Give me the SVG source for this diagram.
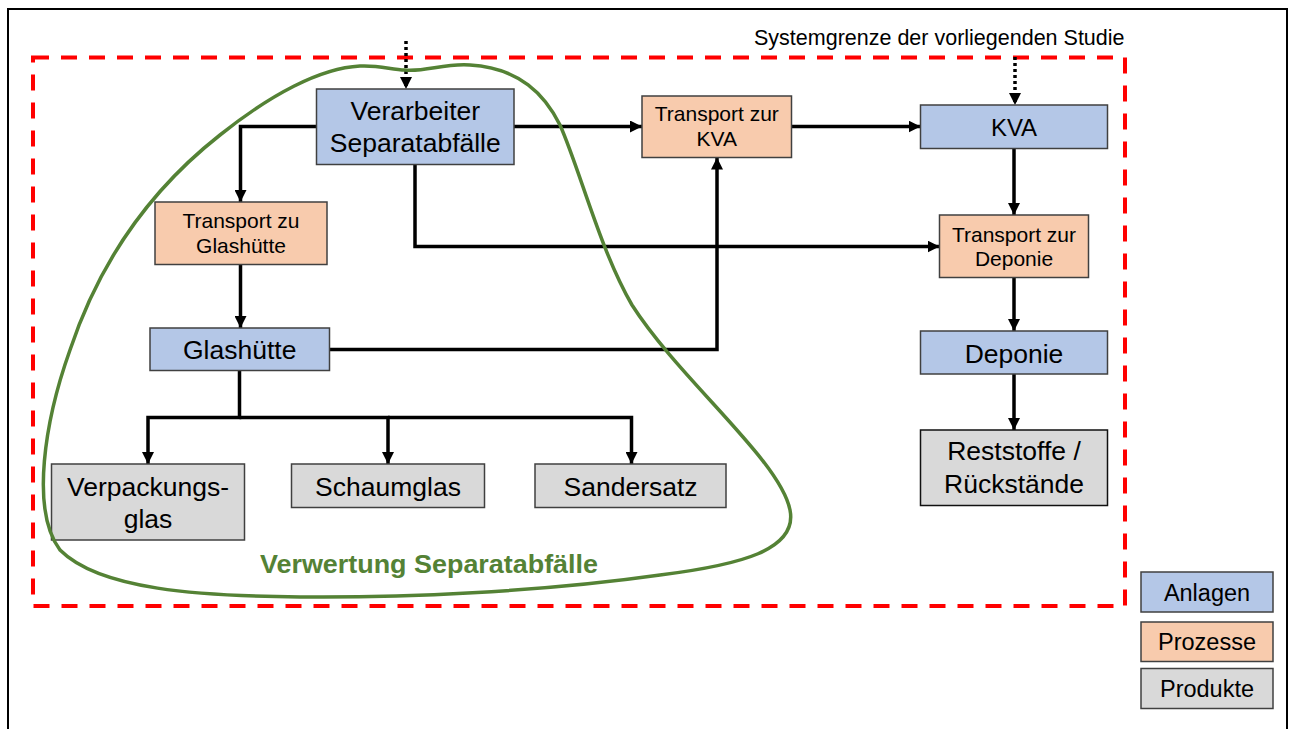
<svg xmlns="http://www.w3.org/2000/svg" width="1292" height="729" viewBox="0 0 1292 729">
  <style>
    text { font-family: "Liberation Sans", Arial, sans-serif; fill: #000; text-anchor: middle; }
    .box { stroke: #404040; stroke-width: 1.5; }
    .anl { fill: #B4C7E7; }
    .pro { fill: #F8CBAD; }
    .prd { fill: #D9D9D9; }
    .big { font-size: 26.5px; }
    .mid { font-size: 21px; }
    .leg { font-size: 23.5px; }
    .flow { fill: none; stroke: #000; stroke-width: 3.5; marker-end: url(#arrow); }
    .dot { fill: none; stroke: #000; stroke-width: 3.5; stroke-dasharray: 3 3; marker-end: url(#arrow); }
  </style>
  <defs>
    <marker id="arrow" markerUnits="userSpaceOnUse" viewBox="0 0 12 12" refX="12" refY="6" markerWidth="12" markerHeight="12" orient="auto">
      <path d="M0,0 L12,6 L0,12 Z" fill="#000"/>
    </marker>
  </defs>

  <rect width="1292" height="729" fill="#fff"/>
  <!-- page frame, open at the bottom -->
  <path d="M8,729 V9 H1287 V729" fill="none" stroke="#000" stroke-width="2"/>

  <!-- system boundary -->
  <rect x="33" y="57.5" width="1092" height="548.5" fill="none" stroke="#FF0000" stroke-width="4" stroke-dasharray="16 12"/>
  <text x="754" y="45" style="font-size:21.5px;text-anchor:start">Systemgrenze der vorliegenden Studie</text>

  <!-- connectors -->
  <g id="connectors">
    <path class="dot" d="M406,41 V89"/>
    <path class="dot" d="M1015,57 V105"/>
    <path class="flow" d="M316.5,126.5 H240.5 V202"/>
    <path class="flow" d="M514,126.5 H642"/>
    <path class="flow" d="M791.5,126.5 H920.5"/>
    <path class="flow" d="M415,164.5 V246.5 H939.5"/>
    <path class="flow" d="M329.5,349.5 H717 V157.5"/>
    <path class="flow" d="M240.5,264.5 V328"/>
    <path class="flow" d="M239.5,370.5 V417.5 H148 V464"/>
    <path class="flow" d="M239.5,417.5 H388 V464"/>
    <path class="flow" d="M388,417.5 H631.5 V464"/>
    <path class="flow" d="M1014,148.5 V215"/>
    <path class="flow" d="M1014,277.5 V331"/>
    <path class="flow" d="M1014,374 V430"/>
  </g>

  <!-- facilities -->
  <g id="verarbeiter">
    <rect class="box anl" x="316.5" y="89" width="197.5" height="75.5"/>
    <text class="big" x="415.3" y="119.5">Verarbeiter</text>
    <text class="big" x="415.3" y="152">Separatabfälle</text>
  </g>
  <g id="transport-kva">
    <rect class="box pro" x="642" y="96" width="149.5" height="61.5"/>
    <text class="mid" x="716.8" y="121">Transport zur</text>
    <text class="mid" x="716.8" y="146">KVA</text>
  </g>
  <g id="kva">
    <rect class="box anl" x="920.5" y="105" width="187" height="43.5"/>
    <text x="1014" y="135.5" style="font-size:24px">KVA</text>
  </g>
  <g id="transport-glashuette">
    <rect class="box pro" x="155" y="202" width="172" height="62.5"/>
    <text class="mid" x="241" y="227.5">Transport zu</text>
    <text class="mid" x="241" y="253">Glashütte</text>
  </g>
  <g id="transport-deponie">
    <rect class="box pro" x="939.5" y="215" width="149" height="62.5"/>
    <text class="mid" x="1014" y="241.5">Transport zur</text>
    <text class="mid" x="1014" y="266">Deponie</text>
  </g>
  <g id="glashuette">
    <rect class="box anl" x="150" y="328" width="179.5" height="42.5"/>
    <text class="big" x="239.7" y="358.5">Glashütte</text>
  </g>
  <g id="deponie">
    <rect class="box anl" x="920.5" y="331" width="187" height="43"/>
    <text class="big" x="1014" y="362.5">Deponie</text>
  </g>
  <g id="verpackungsglas">
    <rect class="box prd" x="51.5" y="464" width="193" height="76"/>
    <text class="big" x="148" y="495.5">Verpackungs-</text>
    <text class="big" x="148" y="528">glas</text>
  </g>
  <g id="schaumglas">
    <rect class="box prd" x="291.5" y="464" width="193" height="43.5"/>
    <text class="big" x="388" y="495.5">Schaumglas</text>
  </g>
  <g id="sandersatz">
    <rect class="box prd" x="535" y="464" width="191" height="43.5"/>
    <text class="big" x="630.6" y="495.5">Sandersatz</text>
  </g>
  <g id="reststoffe">
    <rect class="box prd" x="920.5" y="430" width="187" height="75.5" style="stroke:#111"/>
    <text class="big" x="1014" y="460">Reststoffe /</text>
    <text class="big" x="1014" y="492.7">Rückstände</text>
  </g>

  <!-- recycling boundary -->
  <g id="verwertung">
    <path d="M405,70 C425,72 445,63 470,65 C520,68 545,95 560,125 C580,170 600,250 632,305 C680,380 780,460 790,510 C798,550 740,565 660,575 C540,592 400,598 300,597 C200,596 100,590 60,550 C30,510 45,420 70,350 C100,260 150,190 220,135 C270,95 320,68 360,66 C380,65 392,70 405,70 Z" fill="none" stroke="#548235" stroke-width="3.5"/>
    <text x="260" y="573" textLength="338" lengthAdjust="spacingAndGlyphs" style="font-size:26.5px;font-weight:bold;fill:#548235;text-anchor:start">Verwertung Separatabfälle</text>
  </g>

  <!-- legend -->
  <g id="legend-anlagen">
    <rect class="box anl" x="1141" y="572" width="132" height="40"/>
    <text class="leg" x="1207" y="601">Anlagen</text>
  </g>
  <g id="legend-prozesse">
    <rect class="box pro" x="1141" y="622" width="132" height="39.5"/>
    <text class="leg" x="1207" y="650">Prozesse</text>
  </g>
  <g id="legend-produkte">
    <rect class="box prd" x="1141" y="668.5" width="132" height="40"/>
    <text class="leg" x="1207" y="697">Produkte</text>
  </g>
</svg>
